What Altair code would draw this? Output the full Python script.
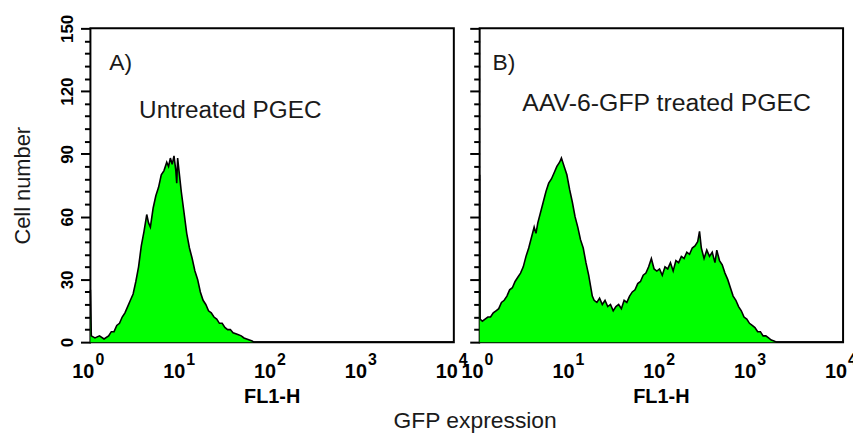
import altair as alt
import pandas as pd

# ---------------- data ----------------
# Panel A: untreated PGEC, FL1-H exponent (log10) and cell counts
a_exp = [0.00, 0.01, 0.05, 0.10, 0.15, 0.20,
         0.23, 0.26, 0.29, 0.32, 0.35, 0.38, 0.41, 0.44, 0.47, 0.50, 0.53, 0.56, 0.59, 0.62,
         0.64, 0.66, 0.69, 0.72, 0.75, 0.78, 0.81, 0.84, 0.86, 0.88, 0.90, 0.92, 0.94, 0.95, 0.96, 0.98, 1.00,
         1.03, 1.06, 1.09, 1.12, 1.15, 1.18, 1.21, 1.24, 1.27, 1.30, 1.33, 1.36, 1.39, 1.42, 1.45, 1.48,
         1.51, 1.54, 1.57, 1.60, 1.63, 1.66, 1.69, 1.72, 1.75, 1.78,
         1.80, 4.00]
a_cnt = [25, 3, 2, 3, 1.5, 3,
         5, 5, 8, 9, 12, 14, 17, 20, 23, 29, 36, 46, 53, 61,
         57, 55, 64, 70, 74, 80, 82, 86, 84, 88, 85, 89, 82, 76, 88, 80, 72,
         62, 52, 45, 40, 34, 30, 24, 20, 18, 15, 14, 12, 11, 9, 9, 7,
         6, 6, 4.5, 4, 3.5, 3, 2, 1.5, 1, 0.5,
         0, 0]

# Panel B: AAV-6-GFP treated PGEC
b_exp = [0.00, 0.005, 0.03, 0.06, 0.09, 0.12, 0.15, 0.18, 0.21, 0.24,
         0.27, 0.30, 0.33, 0.36, 0.39, 0.42, 0.45, 0.48, 0.51, 0.54,
         0.57, 0.60, 0.62, 0.64, 0.67, 0.70, 0.73, 0.76, 0.79, 0.82,
         0.85, 0.88, 0.90, 0.93, 0.96, 0.99, 1.02, 1.05, 1.08, 1.11,
         1.14, 1.17, 1.20, 1.22, 1.24, 1.26, 1.29, 1.32, 1.35, 1.38,
         1.41, 1.44, 1.47, 1.50, 1.53, 1.56, 1.59, 1.62, 1.65, 1.68,
         1.71, 1.74, 1.77, 1.80, 1.83, 1.86, 1.89, 1.92, 1.95, 1.98,
         2.01, 2.04, 2.07, 2.10, 2.13, 2.16, 2.19, 2.22, 2.25, 2.28,
         2.31, 2.34, 2.37, 2.40, 2.42, 2.44, 2.47, 2.50, 2.53, 2.56,
         2.59, 2.61, 2.64, 2.67, 2.70, 2.73, 2.76, 2.79, 2.82, 2.85,
         2.88, 2.91, 2.94, 2.97, 3.00, 3.03, 3.06, 3.09, 3.12, 3.15,
         3.18, 3.21, 3.24, 3.27, 4.00]
b_cnt = [80, 11, 10, 11, 12, 12, 14, 15, 16, 19,
         20, 22, 25, 26, 29, 31, 33, 36, 41, 45,
         50, 55, 52, 57, 62, 67, 72, 76, 78, 81,
         84, 86, 88, 84, 80, 73, 67, 60, 55, 49,
         45, 38, 32, 27, 22, 20, 19, 21, 18, 20,
         17, 18, 15, 17, 18, 16, 20, 19, 22, 24,
         25, 28, 29, 32, 33, 36, 40, 35, 34, 35,
         32, 36, 35, 38, 34, 39, 38, 41, 40, 43,
         42, 45, 46, 48, 53, 45, 40, 44, 41, 43,
         38, 44, 39, 37, 33, 30, 26, 22, 20, 17,
         15, 12, 11, 9, 8, 7, 5, 5, 3, 3,
         2, 1, 0.5, 0, 0]

x_ticks = [1, 2, 3, 4, 5, 6, 7, 8, 9,
           10, 20, 30, 40, 50, 60, 70, 80, 90,
           100, 200, 300, 400, 500, 600, 700, 800, 900,
           1000, 2000, 3000, 4000, 5000, 6000, 7000, 8000, 9000, 10000]
y_ticks = [0, 6, 12, 18, 24, 30, 36, 42, 48, 54, 60, 66, 72, 78, 84, 90,
           96, 102, 108, 114, 120, 126, 132, 138, 144, 150]
decades = [1, 10, 100, 1000, 10000]
decade_exps = ["0", "1", "2", "3", "4"]

df_a = pd.DataFrame({"fl1h": [10 ** e for e in a_exp], "count": a_cnt})
df_b = pd.DataFrame({"fl1h": [10 ** e for e in b_exp], "count": b_cnt})
df_dec = pd.DataFrame({"fl1h": decades, "e": decade_exps})

SANS = "Liberation Sans, Arial, sans-serif"
GREEN = "#00ff00"
TXT = "#1a1a1a"

X_MAJOR = "datum.value == 1 || datum.value == 10 || datum.value == 100 || datum.value == 1000 || datum.value == 10000"
Y_MAJOR = "datum.value % 30 == 0"
XSCALE = alt.Scale(type="log", domain=[1, 10000])
YSCALE = alt.Scale(domain=[0, 150])


def x_axis():
    return alt.Axis(values=x_ticks, labels=False, title=None,
                    tickSize={"condition": {"test": X_MAJOR, "value": 8}, "value": 5},
                    tickWidth=2, tickColor="black", domain=False, grid=False)


def y_axis(labels):
    if labels:
        return alt.Axis(values=y_ticks, labelExpr="datum.value % 30 == 0 ? datum.label : ''",
                        labelOverlap=False, labelFlush=False,
                        tickSize={"condition": {"test": Y_MAJOR, "value": 10}, "value": 6},
                        tickWidth=2, tickColor="black", domain=False, grid=False,
                        labelAngle=270, labelAlign="center", labelBaseline="bottom",
                        labelFont=SANS, labelFontWeight="bold", labelFontSize=17, labelColor="black",
                        labelPadding=4, title="Cell number", titleFont=SANS, titleFontWeight="normal",
                        titleFontSize=22, titleColor=TXT, titlePadding=24)
    return alt.Axis(values=y_ticks, labels=False, title=None,
                    tickSize={"condition": {"test": Y_MAJOR, "value": 10}, "value": 6},
                    tickWidth=2, tickColor="black", domain=False, grid=False)


def text_at(s, x, y, size, align="left", weight="normal", color=TXT):
    return alt.Chart(pd.DataFrame({"t": [s]})).mark_text(
        align=align, baseline="alphabetic", font=SANS, fontSize=size, fontWeight=weight, color=color
    ).encode(text="t:N", x=alt.value(x), y=alt.value(y))


def panel(df, letter, label, lx, ly, fs):
    labels = letter == "A)"
    area = alt.Chart(df).mark_area(
        color=GREEN, opacity=1, line={"color": "black", "strokeWidth": 1.6}, interpolate="linear"
    ).encode(
        x=alt.X("fl1h:Q", scale=XSCALE, axis=x_axis()),
        y=alt.Y("count:Q", scale=YSCALE, axis=y_axis(labels)),
    )
    # decade tick labels 10^n drawn through the x scale: base "10" and raised exponent
    base10 = alt.Chart(df_dec).mark_text(
        align="right", baseline="alphabetic", font=SANS, fontWeight="bold", fontSize=20,
        color="black", dx=4
    ).encode(x=alt.X("fl1h:Q", scale=XSCALE, axis=None), y=alt.value(352), text=alt.value("10"))
    expo = alt.Chart(df_dec).mark_text(
        align="left", baseline="alphabetic", font=SANS, fontWeight="bold", fontSize=16,
        color="black", dx=5
    ).encode(x=alt.X("fl1h:Q", scale=XSCALE, axis=None), y=alt.value(339), text="e:N")
    t1 = text_at(letter, lx[0], ly[0], 23)
    t2 = text_at(label, lx[1], ly[1], fs)
    t3 = text_at("FL1-H", 183, 377, 20, align="center", weight="bold", color="black")
    return alt.layer(area, base10, expo, t1, t2, t3).properties(width=366, height=316)


pa = panel(df_a, "A)", "Untreated PGEC", (19, 49), (42, 90), 24.5)
pb = panel(df_b, "B)", "AAV-6-GFP treated PGEC", (13, 43), (42, 83), 25)

chart = alt.hconcat(pa, pb, spacing=26, bounds="flush").properties(
    title=alt.TitleParams("GFP expression", orient="bottom", anchor="middle", font=SANS,
                          fontSize=23, fontWeight="normal", color=TXT, offset=2, dx=41),
    padding={"left": 3, "top": 3, "right": -5, "bottom": 0},
).configure_view(stroke="black", strokeWidth=2)

chart.save("out.html", embed_options={"renderer": "svg", "actions": False})
